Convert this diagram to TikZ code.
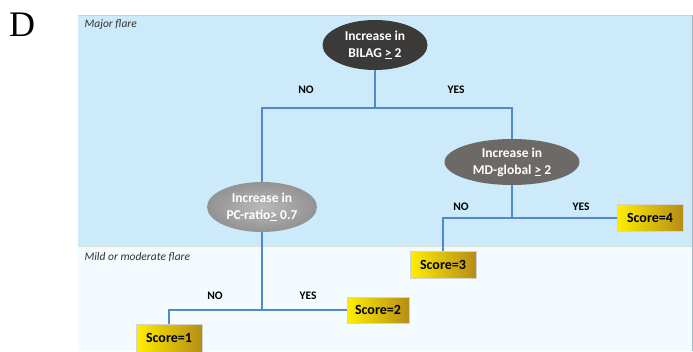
\documentclass[tikz,border=0pt]{standalone}
\usepackage{fontspec}
\setmainfont{Carlito}
\newfontfamily\panelletter{Liberation Serif}
\usetikzlibrary{shapes.geometric}
\definecolor{majorbg}{RGB}{204,234,250}
\definecolor{mildbg}{RGB}{243,251,254}
\definecolor{panelrule}{RGB}{200,215,200}
\definecolor{treeblue}{RGB}{80,138,202}
\definecolor{darkq}{RGB}{60,58,57}
\definecolor{midq}{RGB}{108,105,103}
\definecolor{scoregold}{RGB}{182,140,24}
\definecolor{scoreyellow}{RGB}{255,238,0}
\begin{document}
\begin{tikzpicture}[
    x=1pt, y=-1pt,
    every node/.style={font=\bfseries\fontsize{13.5}{17}\selectfont},
    question/.style={ellipse, text=white, align=center, inner sep=0pt, minimum width=105pt, minimum height=50pt},
    scorebox/.style={draw=gray!35, left color=scoreyellow, right color=scoregold, minimum width=66pt, minimum height=27pt, inner sep=1pt, font=\bfseries\fontsize{14}{16}\selectfont},
    treeline/.style={draw=treeblue, line width=2.2pt},
    branchlabel/.style={font=\bfseries\fontsize{11.5}{13}\selectfont},
    zonelabel/.style={anchor=west, font=\itshape\fontsize{11.5}{13}\selectfont, text=black!80},
]
\useasboundingbox (0,0) rectangle (693,351);

% Panels
\fill[majorbg] (78,15) rectangle (692,246);
\fill[mildbg] (78,246) rectangle (692,351);
\draw[panelrule, line width=1pt] (78,15) -- (692,15);
\draw[panelrule!70, line width=0.8pt] (78,246) -- (692,246);
\draw[majorbg!80!black, line width=0.5pt] (692,15) -- (692,351);
\node[font=\panelletter\fontsize{36}{36}\selectfont] (letter) at (22,25) {D};
\node[zonelabel] (major) at (81,25) {Major flare};
\node[zonelabel] (mild) at (81,257) {Mild or moderate flare};

% Questions
\node[question, fill=darkq] (bilag) at (375,45) {Increase in\\BILAG \underline{>} 2};
\node[question, fill=midq, minimum width=135pt, minimum height=46pt] (mdglobal) at (512,162) {Increase in\\MD-global \underline{>} 2};
\node[question, inner color=gray!55, outer color=gray!85, minimum width=110pt] (pcratio) at (262,207) {Increase in\\PC-ratio\underline{>} 0.7};

% Scores
\node[scorebox] (score4) at (650,218) {Score=4};
\node[scorebox] (score3) at (443,265) {Score=3};
\node[scorebox, minimum width=62pt, minimum height=26pt] (score2) at (378,310) {Score=2};
\node[scorebox, minimum height=28pt] (score1) at (169,338) {Score=1};

% Branches
\coordinate (split1) at (375,108);
\coordinate (split2) at (512,218);
\coordinate (split3) at (262,310);
\draw[treeline] (bilag) -- (split1);
\draw[treeline] (pcratio.north) |- (split1) -| (mdglobal.north);
\draw[treeline] (mdglobal) -- (split2);
\draw[treeline] (score3.north) |- (split2) -- (score4.west);
\draw[treeline] (pcratio) -- (split3);
\draw[treeline] (score1.north) |- (split3) -- (score2.west);

% Branch labels
\node[branchlabel] (no1) at (306,90) {NO};
\node[branchlabel] (yes1) at (456,90) {YES};
\node[branchlabel] (no2) at (461,207) {NO};
\node[branchlabel] (yes2) at (581,207) {YES};
\node[branchlabel] (no3) at (215,296) {NO};
\node[branchlabel] (yes3) at (308,296) {YES};
\end{tikzpicture}
\end{document}
